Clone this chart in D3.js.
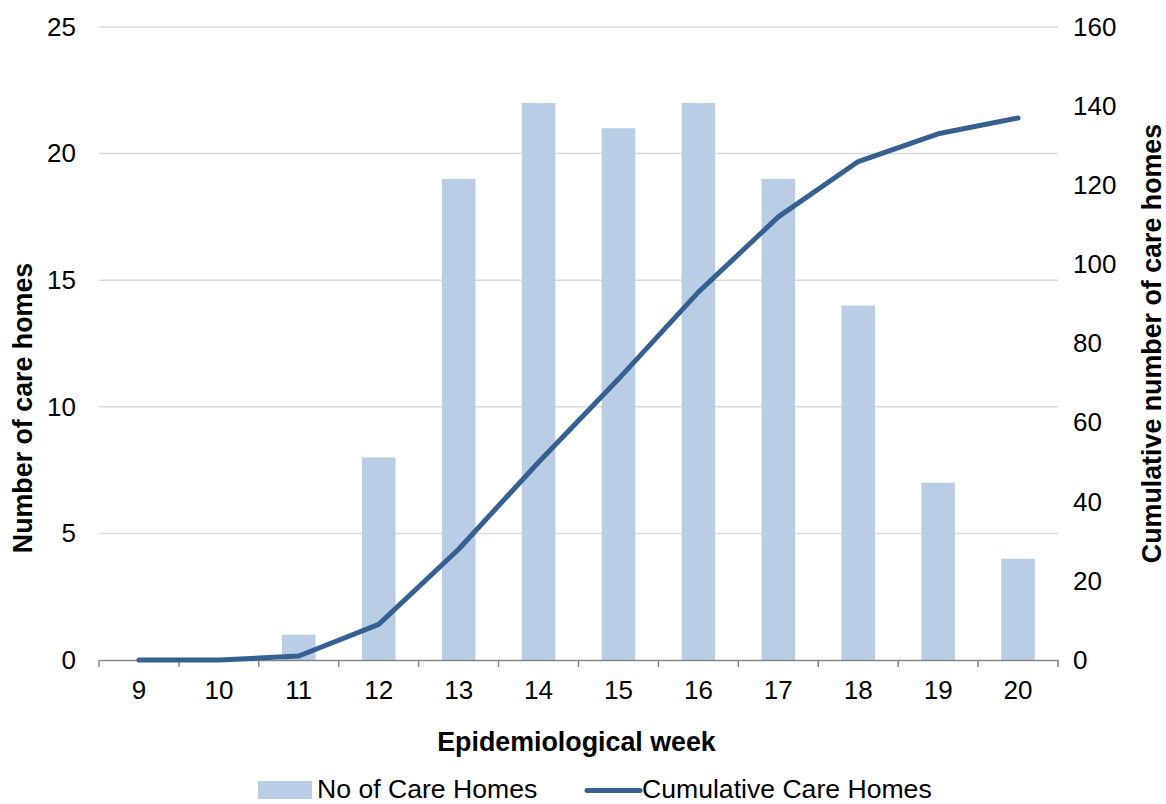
<!doctype html>
<html>
<head>
<script src="https://d3js.org/d3.v7.min.js"></script>
<style>
body { margin: 0; background: #fff; }
svg text { font-family: "Liberation Sans", Arial, sans-serif; fill: #000; }
.axis text { font-size: 26px; }
.legend text { font-size: 26.6px; }
.title { font-size: 26.8px; font-weight: bold; }
</style>
</head>
<body>
<svg width="1166" height="804"></svg>
<script>
var weeks = [9, 10, 11, 12, 13, 14, 15, 16, 17, 18, 19, 20];
var careHomes = [0, 0, 1, 8, 19, 22, 21, 22, 19, 14, 7, 4];
var cumulative = [0, 0, 1, 9, 28, 50, 71, 93, 112, 126, 133, 137];
var leftTicks = [0, 5, 10, 15, 20, 25];
var rightTicks = [0, 20, 40, 60, 80, 100, 120, 140, 160];

var svg = d3.select("svg"),
    margin = {top: 27, left: 99, right: 108, bottom: 144},
    width = 1166 - margin.left - margin.right,
    height = 804 - margin.top - margin.bottom;

var g = svg.append("g").attr("transform", "translate(" + margin.left + "," + margin.top + ")");

var x = d3.scaleBand().domain(weeks).range([0, width]).paddingInner(0.58).paddingOuter(0.29);
var xBand = d3.scaleBand().domain(weeks).range([0, width]);
var y = d3.scaleLinear().domain([0, 25]).range([height, 0]);
var y2 = d3.scaleLinear().domain([0, 160]).range([height, 0]);

// gridlines
g.selectAll(".grid").data(leftTicks.slice(1)).enter().append("line")
    .attr("x1", 0).attr("x2", width)
    .attr("y1", function(d) { return y(d); }).attr("y2", function(d) { return y(d); })
    .attr("stroke", "#d9d9d9").attr("stroke-width", 1.5);

// bars
g.selectAll(".bar").data(weeks).enter().append("rect")
    .attr("x", function(d) { return x(d); })
    .attr("width", x.bandwidth())
    .attr("y", function(d, i) { return y(careHomes[i]); })
    .attr("height", function(d, i) { return height - y(careHomes[i]); })
    .attr("fill", "#b9cde5");

// x axis
var xAxis = g.append("g").attr("class", "axis")
    .attr("transform", "translate(0," + height + ")")
    .call(d3.axisBottom(xBand).tickSize(0).tickPadding(21));
xAxis.select(".domain").attr("stroke", "#868686").attr("stroke-width", 1.5);
g.selectAll(".xtick").data(d3.range(weeks.length + 1)).enter().append("line")
    .attr("x1", function(d) { return d * xBand.step(); })
    .attr("x2", function(d) { return d * xBand.step(); })
    .attr("y1", height).attr("y2", height + 7)
    .attr("stroke", "#868686").attr("stroke-width", 1.5);

// left axis
var yAxis = g.append("g").attr("class", "axis")
    .call(d3.axisLeft(y).tickValues(leftTicks).tickSize(0).tickPadding(23));
yAxis.select(".domain").remove();

// right axis
var yAxis2 = g.append("g").attr("class", "axis")
    .attr("transform", "translate(" + width + ",0)")
    .call(d3.axisRight(y2).tickValues(rightTicks).tickSize(0).tickPadding(15));
yAxis2.select(".domain").remove();

// line
var line = d3.line()
    .x(function(d, i) { return xBand(weeks[i]) + xBand.bandwidth() / 2; })
    .y(function(d) { return y2(d); });
g.append("path").datum(cumulative)
    .attr("d", line)
    .attr("fill", "none")
    .attr("stroke", "#376092")
    .attr("stroke-width", 5)
    .attr("stroke-linecap", "round")
    .attr("stroke-linejoin", "round");

// titles
svg.append("text").attr("class", "title")
    .attr("transform", "translate(32,408) rotate(-90)")
    .attr("text-anchor", "middle").text("Number of care homes");
svg.append("text").attr("class", "title")
    .attr("transform", "translate(1161," + (margin.top + height / 2) + ") rotate(-90)")
    .attr("text-anchor", "middle").text("Cumulative number of care homes");
svg.append("text").attr("class", "title")
    .attr("x", margin.left + width / 2 - 2).attr("y", 751)
    .attr("text-anchor", "middle").text("Epidemiological week");

// legend
var lg = svg.append("g").attr("class", "legend");
lg.append("rect").attr("x", 258).attr("y", 781).attr("width", 54).attr("height", 18).attr("fill", "#b9cde5");
lg.append("text").attr("x", 317).attr("y", 798).text("No of Care Homes");
lg.append("line").attr("x1", 587).attr("x2", 640).attr("y1", 790.5).attr("y2", 790.5)
    .attr("stroke", "#376092").attr("stroke-width", 5).attr("stroke-linecap", "round");
lg.append("text").attr("x", 642).attr("y", 798).text("Cumulative Care Homes");
</script>
</body>
</html>
